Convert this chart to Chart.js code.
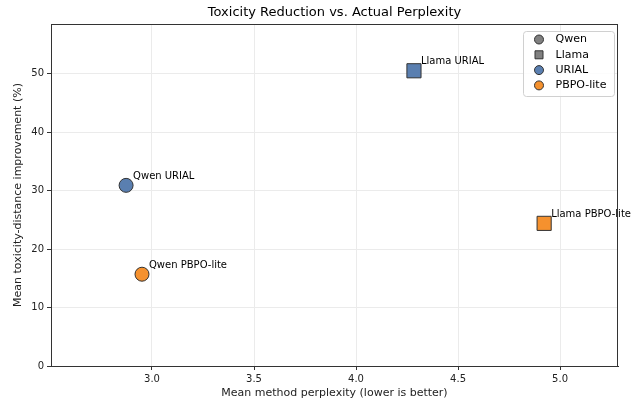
<!DOCTYPE html>
<html>
<head>
<meta charset="utf-8">
<script src="https://cdn.jsdelivr.net/npm/chart.js@4.4.0/dist/chart.umd.min.js"></script>
<style>
  html, body { margin: 0; padding: 0; background: #fff; }
  #wrap { width: 641px; height: 403px; }
</style>
</head>
<body>
<div id="wrap"><canvas id="chart" width="641" height="403"></canvas></div>
<script>
// data
const pointLabels = ['Qwen URIAL', 'Qwen PBPO-lite', 'Llama URIAL', 'Llama PBPO-lite'];
const models = ['Qwen', 'Qwen', 'Llama', 'Llama'];
const methods = ['URIAL', 'PBPO-lite', 'URIAL', 'PBPO-lite'];
const perplexity = [2.873, 2.951, 4.284, 4.922];
const improvement = [30.9, 15.7, 50.5, 24.4];
const xTicks = [3.0, 3.5, 4.0, 4.5, 5.0];
const yTicks = [0, 10, 20, 30, 40, 50];

const methodColor = { 'URIAL': '#5a7fb0', 'PBPO-lite': '#f5912e' };
const modelShape = { 'Qwen': 'circle', 'Llama': 'rect' };
const legendItems = [
  { text: 'Qwen', shape: 'circle', color: '#808080' },
  { text: 'Llama', shape: 'rect', color: '#808080' },
  { text: 'URIAL', shape: 'circle', color: methodColor['URIAL'] },
  { text: 'PBPO-lite', shape: 'circle', color: methodColor['PBPO-lite'] }
];

const FONT = 'DejaVu Sans';

const extras = {
  id: 'extras',
  afterDatasetsDraw(chart) {
    const ctx = chart.ctx;
    const x = chart.scales.x, y = chart.scales.y;
    ctx.save();
    ctx.fillStyle = '#000';
    ctx.font = '10px "' + FONT + '"';
    ctx.textBaseline = 'bottom';
    ctx.textAlign = 'left';
    pointLabels.forEach((t, i) => {
      const px = x.getPixelForValue(perplexity[i]);
      const py = y.getPixelForValue(improvement[i]);
      ctx.fillText(t, px + 7, py - 4);
    });
    ctx.restore();
  },
  afterDraw(chart) {
    const ctx = chart.ctx;
    const a = chart.chartArea;
    ctx.save();
    // full frame
    ctx.strokeStyle = '#333';
    ctx.lineWidth = 1;
    ctx.strokeRect(a.left + 0.5, a.top + 0.5, a.right - a.left - 1, a.bottom - a.top);
    // title
    ctx.fillStyle = '#000';
    ctx.font = '13px "' + FONT + '"';
    ctx.textAlign = 'center';
    ctx.textBaseline = 'middle';
    ctx.fillText('Toxicity Reduction vs. Actual Perplexity', (a.left + a.right) / 2, 13);
    // legend
    const lx = 523, ly = 31, lw = 91, lh = 65;
    ctx.beginPath();
    ctx.roundRect(lx + 0.5, ly + 0.5, lw, lh, 3);
    ctx.fillStyle = 'rgba(255,255,255,0.85)';
    ctx.fill();
    ctx.strokeStyle = '#d0d0d0';
    ctx.stroke();
    ctx.font = '11px "' + FONT + '"';
    ctx.textAlign = 'left';
    legendItems.forEach((it, i) => {
      const cy = ly + 8.5 + i * 15.3;
      ctx.fillStyle = it.color;
      ctx.strokeStyle = '#333';
      ctx.beginPath();
      if (it.shape === 'circle') {
        ctx.arc(539, cy, 4.5, 0, Math.PI * 2);
      } else {
        ctx.rect(535, cy - 4, 8, 8);
      }
      ctx.fill();
      ctx.stroke();
      ctx.fillStyle = '#000';
      ctx.fillText(it.text, 555.5, cy);
    });
    ctx.restore();
  }
};

new Chart(document.getElementById('chart'), {
  type: 'scatter',
  data: {
    datasets: [{
      data: perplexity.map((v, i) => ({ x: v, y: improvement[i] })),
      backgroundColor: methods.map(m => methodColor[m]),
      borderColor: '#333',
      borderWidth: 1,
      pointStyle: models.map(m => modelShape[m]),
      pointRadius: models.map(m => m === 'Llama' ? 10 : 7),
      pointHoverRadius: models.map(m => m === 'Llama' ? 10 : 7)
    }]
  },
  options: {
    responsive: false,
    devicePixelRatio: 1,
    animation: false,
    layout: { padding: { top: 24, right: 23, left: 0, bottom: 0 } },
    plugins: {
      legend: { display: false },
      tooltip: { enabled: false }
    },
    scales: {
      x: {
        type: 'linear',
        min: 2.505,
        max: 5.284,
        afterBuildTicks: s => { s.ticks = xTicks.map(v => ({ value: v })); },
        afterFit: s => { s.height = 37; },
        ticks: {
          color: '#222',
          font: { family: FONT, size: 10 },
          padding: 3,
          callback: v => Number(v).toFixed(1)
        },
        grid: { color: '#ebebeb', tickColor: '#333', tickLength: 4 },
        border: { color: '#333' },
        title: {
          display: true,
          text: 'Mean method perplexity (lower is better)',
          color: '#222',
          font: { family: FONT, size: 11 },
          padding: 3
        }
      },
      y: {
        min: 0,
        max: 58.5,
        afterBuildTicks: s => { s.ticks = yTicks.map(v => ({ value: v })); },
        afterFit: s => { s.width = 51; },
        ticks: {
          color: '#222',
          font: { family: FONT, size: 10 },
          padding: 3
        },
        grid: { color: '#ebebeb', tickColor: '#333', tickLength: 4 },
        border: { color: '#333' },
        title: {
          display: true,
          text: 'Mean toxicity-distance improvement (%)',
          color: '#222',
          font: { family: FONT, size: 11 },
          padding: 12
        }
      }
    }
  },
  plugins: [extras]
});
</script>
</body>
</html>
